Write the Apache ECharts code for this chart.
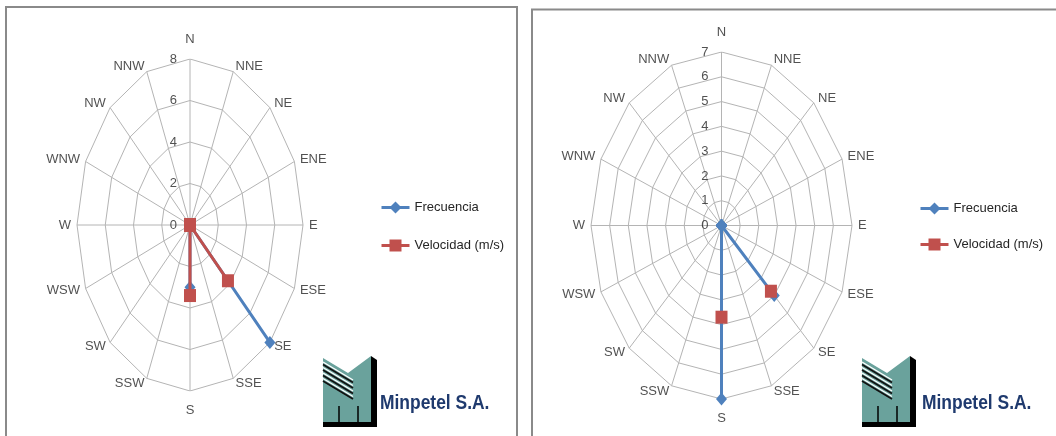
<!DOCTYPE html>
<html><head><meta charset="utf-8">
<script src="https://cdn.jsdelivr.net/npm/echarts@6/dist/echarts.min.js"></script>
<style>html,body{margin:0;padding:0;background:#fff;overflow:hidden}#c{width:1056px;height:436px}</style>
</head><body><div id="c"></div>
<script>
// ---- data ----
const directions = ['N','NNE','NE','ENE','E','ESE','SE','SSE','S','SSW','SW','WSW','W','WNW','NW','NNW'];
// left chart
const ticks1 = [0,2,4,6,8];
const frecuencia1 = [0,0,0,0,0,0,8,0,3,0,0,0,0,0,0,0];
const velocidad1  = [0,0,0,0,0,0,3.8,0,3.4,0,0,0,0,0,0,0];
// right chart
const ticks2 = [0,1,2,3,4,5,6,7];
const frecuencia2 = [0,0,0,0,0,0,4,0,7,0,0,0,0,0,0,0];
const velocidad2  = [null,null,null,null,null,null,3.75,null,3.7,null,null,null,null,null,null,null];
const seriesNames = ['Frecuencia','Velocidad (m/s)'];
const logoText = 'Minpetel S.A.';

// ---- helpers ----
const FONT = "'Liberation Sans', Arial, sans-serif";
const TXT = '#262626';
const GRID = '#b4b4b4';
const BLUE = '#4F81BD', RED = '#C0504D';
const ang = i => i * Math.PI / 8;
function pt(v, i) { return v == null ? ['-','-'] : [v * Math.sin(ang(i)), v * Math.cos(ang(i))]; }
function closed(arr) { const p = arr.map((v, i) => pt(v, i)); p.push(pt(arr[0], 0)); return p; }

function build(k, ticks, frec, vel) {
  const max = ticks[ticks.length - 1];
  const ax = { xAxisIndex: k, yAxisIndex: k };
  const out = [];
  ticks.filter(t => t > 0).forEach(t => {
    out.push({ type: 'line', ...ax, data: closed(directions.map(() => t)), symbol: 'none', silent: true,
      lineStyle: { color: GRID, width: 1 }, z: 1 });
  });
  directions.forEach((d, i) => {
    out.push({ type: 'line', ...ax, data: [[0, 0], pt(max, i)], symbol: 'none', silent: true,
      lineStyle: { color: GRID, width: 1 }, z: 1 });
  });
  out.push({ type: 'scatter', ...ax, symbolSize: 1, itemStyle: { color: 'rgba(0,0,0,0)' }, silent: true, z: 2,
    data: ticks.map(t => ({ name: String(t), value: [0, t] })),
    label: { show: true, formatter: '{b}', position: 'inside', align: 'right', verticalAlign: 'middle',
      offset: [-13, 0], color: TXT, fontSize: 13, fontFamily: FONT } });
  out.push({ type: 'scatter', ...ax, symbolSize: 1, itemStyle: { color: 'rgba(0,0,0,0)' }, silent: true, z: 2,
    data: directions.map((d, i) => {
      const s = Math.sin(ang(i)), c = Math.cos(ang(i));
      let lab;
      if (Math.abs(s) < 0.01) {
        lab = { align: 'center', verticalAlign: c > 0 ? 'bottom' : 'top', offset: [0, c > 0 ? -13 : 13] };
      } else {
        lab = { align: s > 0 ? 'left' : 'right', verticalAlign: 'middle', offset: [6 * s, -6 * c] };
      }
      return { name: d, value: pt(max, i), label: lab };
    }),
    label: { show: true, formatter: '{b}', position: 'inside', color: TXT, fontSize: 13, fontFamily: FONT } });
  out.push({ type: 'line', name: seriesNames[0], ...ax, data: closed(frec), symbol: 'diamond', symbolSize: [11, 13],
    showSymbol: true, showAllSymbol: true, connectNulls: false,
    itemStyle: { color: BLUE }, lineStyle: { color: BLUE, width: 3 }, z: 3 });
  out.push({ type: 'line', name: seriesNames[1], ...ax, data: closed(vel), symbol: 'rect', symbolSize: [12, 13],
    showSymbol: true, showAllSymbol: true, connectNulls: false,
    itemStyle: { color: RED }, lineStyle: { color: RED, width: 3 }, z: 4 });
  return out;
}

function logo(x0, y0, tx) {
  const els = [];
  // black shadow
  els.push({ type: 'polygon', shape: { points: [[x0+48,y0],[x0+54,y0+4],[x0+54,y0+71],[x0,y0+71],[x0,y0+66],[x0+48,y0+66]] },
    style: { fill: '#000' } });
  // teal body
  els.push({ type: 'polygon', shape: { points: [[x0,y0+2],[x0+25,y0+17],[x0+48,y0],[x0+48,y0+66],[x0,y0+66]] },
    style: { fill: '#6aa29c' } });
  // stripes
  for (let k = 0; k < 4; k++) {
    els.push({ type: 'line', shape: { x1: x0, y1: y0 + 6 + 5.5 * k, x2: x0 + 30, y2: y0 + 24 + 5.5 * k },
      style: { stroke: '#fff', lineWidth: 1.4 } });
    els.push({ type: 'line', shape: { x1: x0, y1: y0 + 8.5 + 5.5 * k, x2: x0 + 30, y2: y0 + 26.5 + 5.5 * k },
      style: { stroke: '#111', lineWidth: 1.8 } });
  }
  // legs
  els.push({ type: 'line', shape: { x1: x0 + 16, y1: y0 + 50, x2: x0 + 16, y2: y0 + 66 }, style: { stroke: '#000', lineWidth: 1.5 } });
  els.push({ type: 'line', shape: { x1: x0 + 35, y1: y0 + 50, x2: x0 + 35, y2: y0 + 66 }, style: { stroke: '#000', lineWidth: 1.5 } });
  els.push({ type: 'text', x: tx, y: 403, scaleX: 0.83, style: { text: logoText, fill: '#1f3a6e',
    font: "bold 21px 'Liberation Sans', Arial, sans-serif", textVerticalAlign: 'middle', textAlign: 'left' } });
  return els;
}

const legendCommon = { orient: 'vertical', padding: 0, itemWidth: 28, itemHeight: 15, data: seriesNames,
  lineStyle: { width: 3 },
  textStyle: { color: TXT, fontSize: 13, fontFamily: FONT }, selectedMode: false };

const option = {
  animation: false,
  backgroundColor: '#fff',
  grid: [
    { left: 77, top: 59, width: 226, height: 332 },
    { left: 591, top: 52, width: 261, height: 347 }
  ],
  xAxis: [
    { type: 'value', gridIndex: 0, min: -8, max: 8, show: false },
    { type: 'value', gridIndex: 1, min: -7, max: 7, show: false }
  ],
  yAxis: [
    { type: 'value', gridIndex: 0, min: -8, max: 8, show: false },
    { type: 'value', gridIndex: 1, min: -7, max: 7, show: false }
  ],
  legend: [
    Object.assign({ left: 380, top: 201, itemGap: 25 }, legendCommon),
    Object.assign({ left: 919, top: 202, itemGap: 23 }, legendCommon)
  ],
  graphic: [
    { type: 'rect', shape: { x: 6, y: 7, width: 511, height: 460 }, style: { fill: 'none', stroke: '#8a8a8a', lineWidth: 2 }, z: 0 },
    { type: 'rect', shape: { x: 532, y: 9.5, width: 560, height: 460 }, style: { fill: 'none', stroke: '#8a8a8a', lineWidth: 2 }, z: 0 },
    ...logo(323, 356, 380),
    ...logo(862, 356, 922)
  ],
  series: [...build(0, ticks1, frecuencia1, velocidad1), ...build(1, ticks2, frecuencia2, velocidad2)]
};
const chart = echarts.init(document.getElementById('c'));
chart.setOption(option);
</script></body></html>
